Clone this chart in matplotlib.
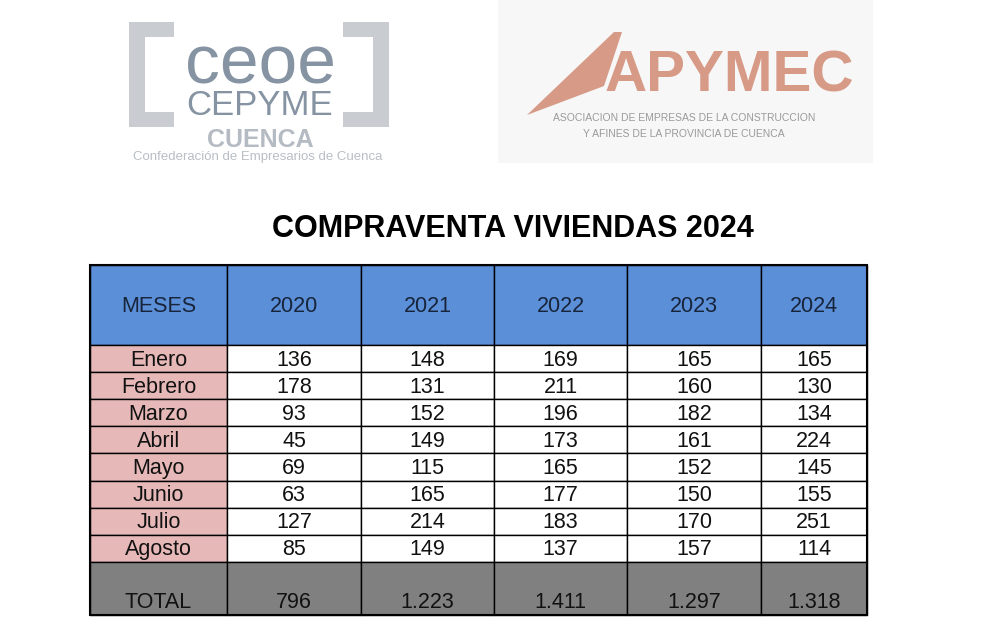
import matplotlib
matplotlib.use("Agg")
import matplotlib.pyplot as plt
from matplotlib.patches import Rectangle, Polygon

plt.rcParams['font.family'] = ['Liberation Sans', 'DejaVu Sans']

# DATA
title = "COMPRAVENTA VIVIENDAS 2024"
first_col_label = "MESES"
years = ["2020", "2021", "2022", "2023", "2024"]
months = ["Enero", "Febrero", "Marzo", "Abril", "Mayo", "Junio", "Julio", "Agosto"]
sales_2020 = [136, 178, 93, 45, 69, 63, 127, 85]
sales_2021 = [148, 131, 152, 149, 115, 165, 214, 149]
sales_2022 = [169, 211, 196, 173, 165, 177, 183, 137]
sales_2023 = [165, 160, 182, 161, 152, 150, 170, 157]
sales_2024 = [165, 130, 134, 224, 145, 155, 251, 114]
total_label = "TOTAL"

# layout (pixel coordinates, origin top-left)
col_edges = [90, 227, 361, 494, 627, 761, 867]
header_top, header_bottom = 265, 345
row_h = 27.1
total_bottom = 615

HEADER_BLUE = "#5b8fd8"
MONTH_PINK = "#e6b8b7"
TOTAL_GRAY = "#808080"


def fmt_es(n):
    return f"{n:,}".replace(",", ".")


def draw_logos(ax):
    # CEOE CEPYME logo
    br = "#c9cdd2"
    for x0, arm_x in [(129, 129), (373, 343)]:
        ax.add_patch(Rectangle((x0, 22), 16, 105, color=br, lw=0))
        ax.add_patch(Rectangle((arm_x, 22), 45, 15, color=br, lw=0))
        ax.add_patch(Rectangle((arm_x, 112), 45, 15, color=br, lw=0))
    ax.text(260, 83, "ceoe", fontsize=50, color="#8593a2", ha="center", va="baseline")
    ax.text(260, 115, "CEPYME", fontsize=25, color="#8593a2", ha="center", va="baseline")
    ax.text(260, 147, "CUENCA", fontsize=18, color="#b5bbc2", ha="center", va="baseline",
            fontweight="bold")
    ax.text(258, 157, "Confederación de Empresarios de Cuenca", fontsize=9.5,
            color="#b9bec4", ha="center", va="center")

    # APYMEC logo
    ax.add_patch(Rectangle((498, 0), 375, 163, color="#f7f7f7", lw=0))
    salmon = "#d69a86"
    ax.add_patch(Polygon([(527, 115), (614, 32), (622, 32), (604, 86)],
                         closed=True, color=salmon, lw=0))
    ax.text(729, 92, "APYMEC", fontsize=42, color=salmon, ha="center", va="baseline",
            fontweight="bold")
    ax.text(684, 118, "ASOCIACION DE EMPRESAS DE LA CONSTRUCCION", fontsize=7.5,
            color="#9a9a9a", ha="center", va="center")
    ax.text(684, 134, "Y AFINES DE LA PROVINCIA DE CUENCA", fontsize=7.5,
            color="#9a9a9a", ha="center", va="center")


def main():
    fig = plt.figure(figsize=(10, 6.32), dpi=100)
    ax = fig.add_axes([0, 0, 1, 1])
    ax.set_xlim(0, 1000)
    ax.set_ylim(632, 0)
    ax.axis("off")

    draw_logos(ax)

    ax.text(513, 229, title, fontsize=22, fontweight="bold", ha="center",
            va="center", color="#000000")

    columns = [sales_2020, sales_2021, sales_2022, sales_2023, sales_2024]
    n_rows = len(months)
    total_top = header_bottom + n_rows * row_h

    # header row
    header_labels = [first_col_label] + years
    for c, label in enumerate(header_labels):
        x0, x1 = col_edges[c], col_edges[c + 1]
        ax.add_patch(Rectangle((x0, header_top), x1 - x0, header_bottom - header_top,
                               facecolor=HEADER_BLUE, edgecolor="black", lw=1))
        ax.text((x0 + x1) / 2, (header_top + header_bottom) / 2 + 1, label, fontsize=15.5,
                ha="center", va="center", color="#17243a")

    # month rows
    for r, month in enumerate(months):
        y0 = header_bottom + r * row_h
        cells = [month] + [str(col[r]) for col in columns]
        for c, txt in enumerate(cells):
            x0, x1 = col_edges[c], col_edges[c + 1]
            fc = MONTH_PINK if c == 0 else "white"
            ax.add_patch(Rectangle((x0, y0), x1 - x0, row_h, facecolor=fc,
                                   edgecolor="black", lw=1))
            ax.text((x0 + x1) / 2, y0 + row_h / 2 + 1.5, txt, fontsize=15.5,
                    ha="center", va="center", color="#111111")

    # total row
    totals = [total_label] + [fmt_es(sum(col)) for col in columns]
    for c, txt in enumerate(totals):
        x0, x1 = col_edges[c], col_edges[c + 1]
        ax.add_patch(Rectangle((x0, total_top), x1 - x0, total_bottom - total_top,
                               facecolor=TOTAL_GRAY, edgecolor="black", lw=1))
        ax.text((x0 + x1) / 2, total_bottom - 12, txt, fontsize=15.5,
                ha="center", va="center", color="#111111")

    # outer frame
    ax.add_patch(Rectangle((col_edges[0], header_top), col_edges[-1] - col_edges[0],
                           total_bottom - header_top, fill=False, edgecolor="black", lw=1.5))

    fig.savefig("out.png", dpi=100, facecolor="white")


if __name__ == "__main__":
    main()
